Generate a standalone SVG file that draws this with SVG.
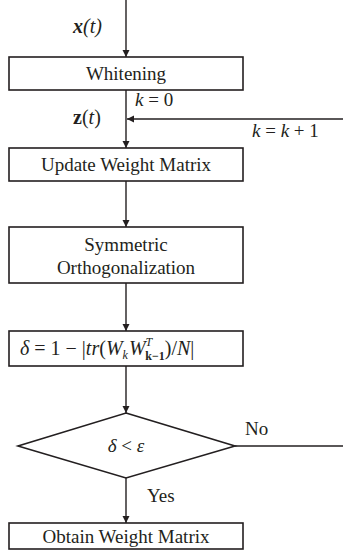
<svg xmlns="http://www.w3.org/2000/svg" width="343" height="551" viewBox="0 0 343 551">
<style>
.box{fill:#fff;stroke:#231f20;stroke-width:1.6}
.ln{fill:none;stroke:#231f20;stroke-width:1.4}
.t{font-size:19px;text-anchor:middle}
.m{font-size:19px;font-style:italic}
</style>
<defs>
<marker id="ah" viewBox="0 0 10 10" refX="10" refY="5" markerWidth="7" markerHeight="8" markerUnits="userSpaceOnUse" orient="auto">
<path d="M0,0 L10,5 L0,10 z" fill="#231f20"/>
</marker>
</defs>
<rect width="343" height="551" fill="#fff"/>
<g id="connectors" font-family="Liberation Serif, Times New Roman, serif" fill="#231f20">
<line class="ln" x1="126" y1="0" x2="126" y2="57" marker-end="url(#ah)"/>
<line class="ln" x1="126" y1="90" x2="126" y2="148" marker-end="url(#ah)"/>
<line class="ln" x1="343" y1="119" x2="127" y2="119" marker-end="url(#ah)"/>
<line class="ln" x1="126" y1="181" x2="126" y2="227" marker-end="url(#ah)"/>
<line class="ln" x1="126" y1="283" x2="126" y2="331" marker-end="url(#ah)"/>
<line class="ln" x1="126" y1="366" x2="126" y2="413" marker-end="url(#ah)"/>
<line class="ln" x1="126" y1="478" x2="126" y2="523" marker-end="url(#ah)"/>
<line class="ln" x1="235" y1="446" x2="343" y2="446"/>
<text x="73" y="33" font-size="20" font-weight="bold" font-style="italic">x<tspan font-weight="normal">(t)</tspan></text>
<text x="73" y="124" font-size="20" font-weight="bold">z<tspan font-weight="normal">(<tspan font-style="italic">t</tspan>)</tspan></text>
<text class="m" x="135" y="106">k <tspan font-style="normal">= 0</tspan></text>
<text class="m" x="252" y="137">k <tspan font-style="normal">=</tspan> k <tspan font-style="normal">+ 1</tspan></text>
<text x="245" y="435" font-size="19">No</text>
<text x="147" y="502" font-size="19">Yes</text>
</g>
<g id="whitening" font-family="Liberation Serif, Times New Roman, serif" fill="#231f20">
<rect class="box" x="9" y="57" width="234" height="33"/>
<text class="t" x="126" y="80">Whitening</text>
</g>
<g id="update" font-family="Liberation Serif, Times New Roman, serif" fill="#231f20">
<rect class="box" x="9" y="148" width="234" height="33"/>
<text class="t" x="126" y="171">Update Weight Matrix</text>
</g>
<g id="symmetric" font-family="Liberation Serif, Times New Roman, serif" fill="#231f20">
<rect class="box" x="9" y="227" width="234" height="56"/>
<text class="t" x="126" y="251">Symmetric</text>
<text class="t" x="126" y="274">Orthogonalization</text>
</g>
<g id="delta" font-family="Liberation Serif, Times New Roman, serif" fill="#231f20">
<rect class="box" x="9" y="331" width="234" height="35"/>
<text x="20" y="355" font-size="20" font-style="italic">δ <tspan font-style="normal">= 1 − |</tspan>tr<tspan font-style="normal">(</tspan>W<tspan font-size="12" dy="4">k</tspan><tspan dy="-4" dx="1">W</tspan><tspan font-size="12" dy="-9">T</tspan><tspan font-size="12" font-style="normal" font-weight="bold" dx="-7" dy="14">k−1</tspan><tspan font-style="normal" dy="-5">)/</tspan>N<tspan font-style="normal">|</tspan></text>
</g>
<g id="decision" font-family="Liberation Serif, Times New Roman, serif" fill="#231f20">
<polygon class="box" points="126,413 235,446 126,478 18,446"/>
<text x="126" y="452" font-size="19" font-style="italic" text-anchor="middle">δ <tspan font-style="normal">&lt;</tspan> ε</text>
</g>
<g id="obtain" font-family="Liberation Serif, Times New Roman, serif" fill="#231f20">
<rect class="box" x="9" y="523" width="234" height="26"/>
<text class="t" x="126" y="543">Obtain Weight Matrix</text>
</g>
</svg>
